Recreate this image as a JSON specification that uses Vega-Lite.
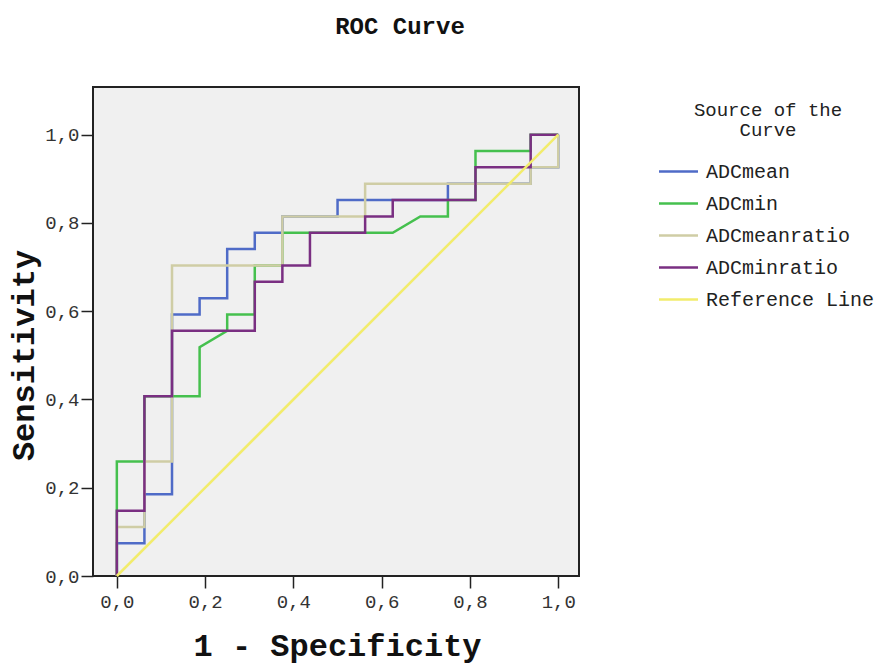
{
  "$schema": "https://vega.github.io/schema/vega-lite/v6.json",
  "width": 486,
  "height": 489,
  "autosize": {"type": "none"},
  "padding": {"left": 93, "top": 87, "right": 309, "bottom": 90},
  "background": "#ffffff",
  "title": {
    "text": "ROC Curve",
    "font": "Liberation Mono",
    "fontSize": 24,
    "fontWeight": "bold",
    "color": "#111111",
    "anchor": "middle",
    "dx": 64,
    "offset": 36,
    "baseline": "middle"
  },
  "config": {
    "view": {"fill": "#f0f0f0", "stroke": "#222222", "strokeWidth": 2},
    "axis": {
      "grid": false,
      "domain": false,
      "tickColor": "#222222",
      "tickWidth": 1.5,
      "tickSize": 12,
      "labelFont": "Liberation Mono",
      "labelFontSize": 19,
      "labelColor": "#333333",
      "titleFont": "Liberation Mono",
      "titleFontSize": 32,
      "titleFontWeight": "bold",
      "titleColor": "#111111"
    }
  },
  "data": {
    "values": [
      {"s": "ADCmean", "i": 0, "x": 0, "y": 0},
      {"s": "ADCmean", "i": 1, "x": 0, "y": 0.0741},
      {"s": "ADCmean", "i": 2, "x": 0.0625, "y": 0.0741},
      {"s": "ADCmean", "i": 3, "x": 0.0625, "y": 0.1852},
      {"s": "ADCmean", "i": 4, "x": 0.125, "y": 0.1852},
      {"s": "ADCmean", "i": 5, "x": 0.125, "y": 0.5926},
      {"s": "ADCmean", "i": 6, "x": 0.1875, "y": 0.5926},
      {"s": "ADCmean", "i": 7, "x": 0.1875, "y": 0.6296},
      {"s": "ADCmean", "i": 8, "x": 0.25, "y": 0.6296},
      {"s": "ADCmean", "i": 9, "x": 0.25, "y": 0.7407},
      {"s": "ADCmean", "i": 10, "x": 0.3125, "y": 0.7407},
      {"s": "ADCmean", "i": 11, "x": 0.3125, "y": 0.7778},
      {"s": "ADCmean", "i": 12, "x": 0.375, "y": 0.7778},
      {"s": "ADCmean", "i": 13, "x": 0.375, "y": 0.8148},
      {"s": "ADCmean", "i": 14, "x": 0.5, "y": 0.8148},
      {"s": "ADCmean", "i": 15, "x": 0.5, "y": 0.8519},
      {"s": "ADCmean", "i": 16, "x": 0.75, "y": 0.8519},
      {"s": "ADCmean", "i": 17, "x": 0.75, "y": 0.8889},
      {"s": "ADCmean", "i": 18, "x": 0.9375, "y": 0.8889},
      {"s": "ADCmean", "i": 19, "x": 0.9375, "y": 0.9259},
      {"s": "ADCmean", "i": 20, "x": 1, "y": 0.9259},
      {"s": "ADCmean", "i": 21, "x": 1, "y": 1},
      {"s": "ADCmin", "i": 0, "x": 0, "y": 0},
      {"s": "ADCmin", "i": 1, "x": 0, "y": 0.2593},
      {"s": "ADCmin", "i": 2, "x": 0.0625, "y": 0.2593},
      {"s": "ADCmin", "i": 3, "x": 0.0625, "y": 0.4074},
      {"s": "ADCmin", "i": 4, "x": 0.1875, "y": 0.4074},
      {"s": "ADCmin", "i": 5, "x": 0.1875, "y": 0.5185},
      {"s": "ADCmin", "i": 6, "x": 0.25, "y": 0.5556},
      {"s": "ADCmin", "i": 7, "x": 0.25, "y": 0.5926},
      {"s": "ADCmin", "i": 8, "x": 0.3125, "y": 0.5926},
      {"s": "ADCmin", "i": 9, "x": 0.3125, "y": 0.7037},
      {"s": "ADCmin", "i": 10, "x": 0.375, "y": 0.7037},
      {"s": "ADCmin", "i": 11, "x": 0.375, "y": 0.7778},
      {"s": "ADCmin", "i": 12, "x": 0.625, "y": 0.7778},
      {"s": "ADCmin", "i": 13, "x": 0.6875, "y": 0.8148},
      {"s": "ADCmin", "i": 14, "x": 0.75, "y": 0.8148},
      {"s": "ADCmin", "i": 15, "x": 0.75, "y": 0.8519},
      {"s": "ADCmin", "i": 16, "x": 0.8125, "y": 0.8519},
      {"s": "ADCmin", "i": 17, "x": 0.8125, "y": 0.963},
      {"s": "ADCmin", "i": 18, "x": 0.9375, "y": 0.963},
      {"s": "ADCmin", "i": 19, "x": 0.9375, "y": 1},
      {"s": "ADCmin", "i": 20, "x": 1, "y": 1},
      {"s": "ADCmeanratio", "i": 0, "x": 0, "y": 0},
      {"s": "ADCmeanratio", "i": 1, "x": 0, "y": 0.1111},
      {"s": "ADCmeanratio", "i": 2, "x": 0.0625, "y": 0.1111},
      {"s": "ADCmeanratio", "i": 3, "x": 0.0625, "y": 0.2593},
      {"s": "ADCmeanratio", "i": 4, "x": 0.125, "y": 0.2593},
      {"s": "ADCmeanratio", "i": 5, "x": 0.125, "y": 0.7037},
      {"s": "ADCmeanratio", "i": 6, "x": 0.375, "y": 0.7037},
      {"s": "ADCmeanratio", "i": 7, "x": 0.375, "y": 0.8148},
      {"s": "ADCmeanratio", "i": 8, "x": 0.5625, "y": 0.8148},
      {"s": "ADCmeanratio", "i": 9, "x": 0.5625, "y": 0.8889},
      {"s": "ADCmeanratio", "i": 10, "x": 0.9375, "y": 0.8889},
      {"s": "ADCmeanratio", "i": 11, "x": 0.9375, "y": 0.9259},
      {"s": "ADCmeanratio", "i": 12, "x": 1, "y": 0.9259},
      {"s": "ADCmeanratio", "i": 13, "x": 1, "y": 1},
      {"s": "ADCminratio", "i": 0, "x": 0, "y": 0},
      {"s": "ADCminratio", "i": 1, "x": 0, "y": 0.1481},
      {"s": "ADCminratio", "i": 2, "x": 0.0625, "y": 0.1481},
      {"s": "ADCminratio", "i": 3, "x": 0.0625, "y": 0.4074},
      {"s": "ADCminratio", "i": 4, "x": 0.125, "y": 0.4074},
      {"s": "ADCminratio", "i": 5, "x": 0.125, "y": 0.5556},
      {"s": "ADCminratio", "i": 6, "x": 0.3125, "y": 0.5556},
      {"s": "ADCminratio", "i": 7, "x": 0.3125, "y": 0.6667},
      {"s": "ADCminratio", "i": 8, "x": 0.375, "y": 0.6667},
      {"s": "ADCminratio", "i": 9, "x": 0.375, "y": 0.7037},
      {"s": "ADCminratio", "i": 10, "x": 0.4375, "y": 0.7037},
      {"s": "ADCminratio", "i": 11, "x": 0.4375, "y": 0.7778},
      {"s": "ADCminratio", "i": 12, "x": 0.5625, "y": 0.7778},
      {"s": "ADCminratio", "i": 13, "x": 0.5625, "y": 0.8148},
      {"s": "ADCminratio", "i": 14, "x": 0.625, "y": 0.8148},
      {"s": "ADCminratio", "i": 15, "x": 0.625, "y": 0.8519},
      {"s": "ADCminratio", "i": 16, "x": 0.8125, "y": 0.8519},
      {"s": "ADCminratio", "i": 17, "x": 0.8125, "y": 0.9259},
      {"s": "ADCminratio", "i": 18, "x": 0.9375, "y": 0.9259},
      {"s": "ADCminratio", "i": 19, "x": 0.9375, "y": 1},
      {"s": "ADCminratio", "i": 20, "x": 1, "y": 1},
      {"s": "Reference Line", "i": 0, "x": 0, "y": 0},
      {"s": "Reference Line", "i": 1, "x": 1, "y": 1}
    ]
  },
  "mark": {"type": "line", "strokeWidth": 2.5, "interpolate": "linear"},
  "encoding": {
    "x": {
      "field": "x",
      "type": "quantitative",
      "scale": {"domain": [-0.054, 1.047], "nice": false, "zero": false},
      "axis": {
        "title": "1 - Specificity",
        "values": [0, 0.2, 0.4, 0.6, 0.8, 1.0],
        "labelExpr": "replace(format(datum.value, '.1f'), '.', ',')",
        "labelPadding": 4,
        "titleX": 244,
        "titleY": 69,
        "titleBaseline": "middle",
        "titleAlign": "center"
      }
    },
    "y": {
      "field": "y",
      "type": "quantitative",
      "scale": {"domain": [0, 1.108], "nice": false, "zero": false},
      "axis": {
        "title": "Sensitivity",
        "values": [0, 0.2, 0.4, 0.6, 0.8, 1.0],
        "labelExpr": "replace(format(datum.value, '.1f'), '.', ',')",
        "labelPadding": 2,
        "titleX": -70,
        "titleY": 268,
        "titleBaseline": "middle",
        "titleAlign": "center",
        "titleAngle": 270
      }
    },
    "color": {
      "field": "s",
      "type": "nominal",
      "scale": {
        "domain": ["ADCmean", "ADCmin", "ADCmeanratio", "ADCminratio", "Reference Line"],
        "range": ["#4f6bc7", "#45c04e", "#cfcda5", "#7a2f82", "#f2ec6c"]
      },
      "legend": {
        "title": ["Source of the", "Curve"],
        "orient": "none",
        "legendX": 569,
        "legendY": 14,
        "padding": 0,
        "titleFont": "Liberation Mono",
        "titleFontSize": 19,
        "titleFontWeight": "normal",
        "titleColor": "#222222",
        "titleAlign": "center",
        "titleAnchor": "middle",
        "titleLineHeight": 20,
        "titlePadding": 15,
        "labelFont": "Liberation Mono",
        "labelFontSize": 20,
        "labelColor": "#222222",
        "labelLimit": 400,
        "labelOffset": 11,
        "symbolType": "M-1.3,0H1.3",
        "symbolSize": 900,
        "symbolStrokeWidth": 2.5,
        "rowPadding": 5
      }
    },
    "order": {"field": "i", "type": "quantitative"}
  }
}
